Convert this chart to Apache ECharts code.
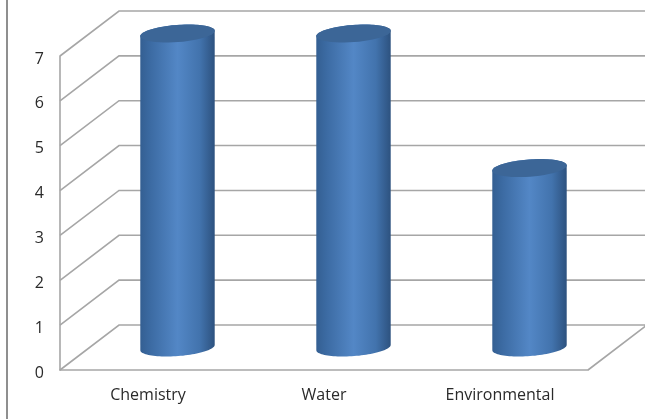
<!DOCTYPE html>
<html><head><meta charset="utf-8">
<style>html,body{margin:0;padding:0;background:#fff}#c{width:645px;height:419px}</style>
<script src="https://cdn.jsdelivr.net/npm/echarts@6/dist/echarts.min.js"></script>
</head><body><div id="c"></div>
<script>
const categories = ['Chemistry', 'Water', 'Environmental'];
const values = [7, 7, 4];
const yTicks = [0, 1, 2, 3, 4, 5, 6, 7];

const DX = 59, DY = 45;
const chart = echarts.init(document.getElementById('c'), null, {renderer: 'canvas'});
const wallColor = '#a6a6a6';
const lineStyle = {stroke: wallColor, lineWidth: 1.6, fill: null};

function renderWall(params, api) {
  const v = api.value(0);
  const cs = params.coordSys;
  const p = api.coord([0, v]);
  const y = p[1], x0 = cs.x, x1 = cs.x + cs.width;
  const pts = v === 0
    ? [[x0, y], [x0 + DX, y - DY], [x1 + DX, y - DY], [x1, y]]
    : [[x0, y], [x0 + DX, y - DY], [x1 + DX, y - DY]];
  return {type: 'polyline', shape: {points: pts}, style: lineStyle, silent: true};
}

function ellipsePts(cx, cy, rx, ry, rot, a0, a1) {
  const out = [], n = 48, c = Math.cos(rot), s = Math.sin(rot);
  for (let i = 0; i <= n; i++) {
    const a = a0 + (a1 - a0) * i / n;
    const ex = rx * Math.cos(a), ey = ry * Math.sin(a);
    out.push([cx + ex * c - ey * s, cy + ex * s + ey * c]);
  }
  return out;
}

function renderCyl(params, api) {
  const idx = api.value(0), val = api.value(1);
  const band = api.size([1, 0])[0];
  const rx = band * 0.212, ry = 8.6, rot = -0.075;
  const base = api.coord([idx, 0]), top = api.coord([idx, val]);
  const cx = base[0] + DX / 2;
  const yb = base[1] - DY / 2, yt = top[1] - DY / 2;
  const lower = ellipsePts(cx, yb, rx, ry, rot, 0, Math.PI);
  const upper = ellipsePts(cx, yt, rx, ry, rot, Math.PI, 2 * Math.PI);
  const body = lower.concat(upper);
  return {type: 'group', children: [
    {type: 'polygon', shape: {points: body}, style: {
      fill: {type: 'linear', x: 0, y: 0, x2: 1, y2: 0, colorStops: [
        {offset: 0, color: '#345f92'},
        {offset: 0.14, color: '#3c6ba3'},
        {offset: 0.5, color: '#5387c6'},
        {offset: 0.8, color: '#4273ad'},
        {offset: 1, color: '#2d527f'}
      ]}
    }},
    {type: 'polygon', shape: {points: ellipsePts(cx, yt, rx, ry, rot, 0, 2 * Math.PI)},
      style: {fill: '#3c6697'}}
  ]};
}

const labelFont = {color: '#2a2a2a', fontSize: 16, fontFamily: 'Open Sans'};

chart.setOption({
  animation: false,
  backgroundColor: '#fff',
  graphic: [{type: 'rect', silent: true, z: 1,
    shape: {x: 6, y: 0, width: 2, height: 419}, style: {fill: '#8f8f8f'}}],
  grid: {left: 60, right: 57, top: 56, bottom: 49, containLabel: false},
  xAxis: {type: 'category', data: categories,
    axisLine: {show: true, lineStyle: {color: wallColor, width: 1.6}},
    axisTick: {show: false}, splitLine: {show: false},
    axisLabel: Object.assign({margin: 17}, labelFont)},
  yAxis: {type: 'value', min: 0, max: 7, interval: 1,
    axisLine: {show: true, lineStyle: {color: wallColor, width: 1.6}},
    axisTick: {show: false}, splitLine: {show: false},
    axisLabel: Object.assign({margin: 16, verticalAlign: 'top', lineHeight: 6,
      formatter: v => String(yTicks[v])}, labelFont)},
  series: [
    {type: 'custom', coordinateSystem: 'cartesian2d', clip: false, z: 2,
      renderItem: renderWall, data: yTicks.map(v => [v]),
      encode: {y: 0}, silent: true},
    {type: 'custom', coordinateSystem: 'cartesian2d', clip: false, z: 3,
      renderItem: renderCyl, data: values.map((v, i) => [i, v]),
      encode: {x: 0, y: 1}}
  ]
});
</script></body></html>
